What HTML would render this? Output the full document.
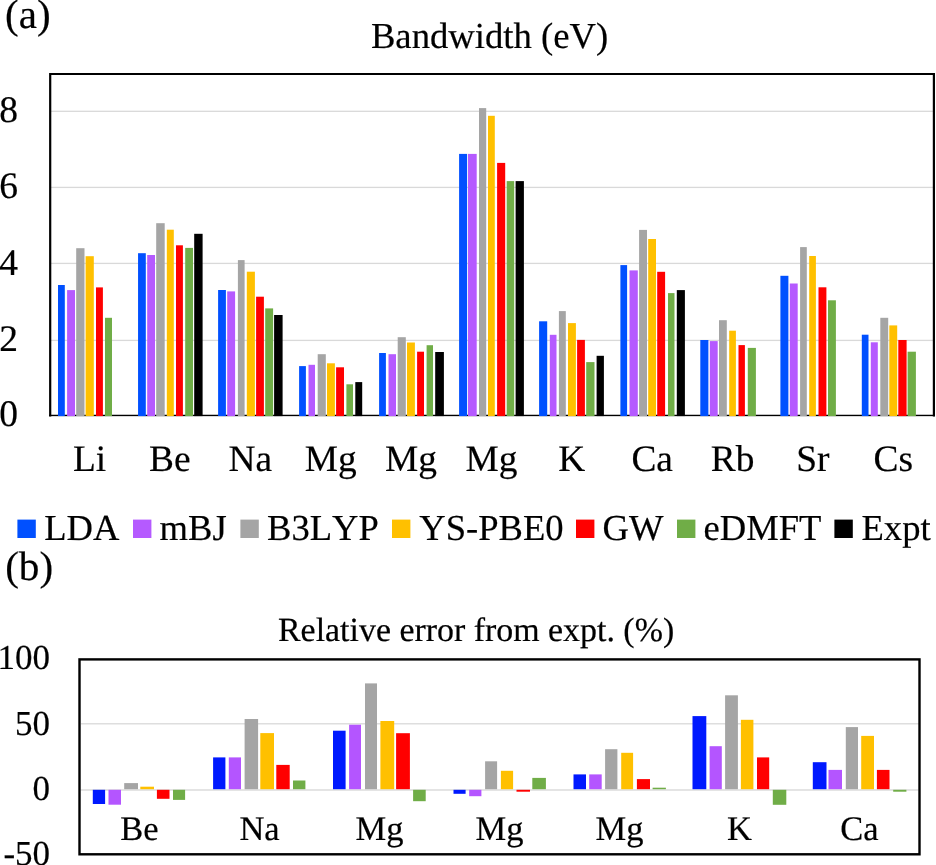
<!DOCTYPE html>
<html><head><meta charset="utf-8"><title>Bandwidth chart</title>
<style>
html,body{margin:0;padding:0;background:#fff;}
body{width:936px;height:865px;overflow:hidden;}
svg{display:block;will-change:transform;}
text{font-family:"Liberation Serif",serif;fill:#000;text-rendering:geometricPrecision;font-kerning:none;stroke:#000;stroke-width:0.2px;}
</style></head><body>
<svg width="936" height="865" viewBox="0 0 936 865">
<text x="5.1" y="28.1" font-size="41">(a)</text>
<text x="370.9" y="47.8" font-size="36.7">Bandwidth (eV)</text>
<rect x="51" y="110.65" width="882" height="1.3" fill="#D9D9D9"/>
<rect x="51" y="186.75" width="882" height="1.3" fill="#D9D9D9"/>
<rect x="51" y="262.75" width="882" height="1.3" fill="#D9D9D9"/>
<rect x="51" y="339.75" width="882" height="1.3" fill="#D9D9D9"/>
<rect x="49" y="414.75" width="886" height="1.4" fill="#000"/>
<rect x="58" y="285" width="6.8" height="131.1" fill="#0050FF"/>
<rect x="67.1" y="290.1" width="7.9" height="126" fill="#B55AFF"/>
<rect x="76.2" y="248.2" width="8.3" height="167.9" fill="#A5A5A5"/>
<rect x="85.6" y="256.2" width="8.2" height="159.9" fill="#FFC000"/>
<rect x="96" y="287.4" width="6.9" height="128.7" fill="#FF0000"/>
<rect x="105" y="317.8" width="7" height="98.3" fill="#70AD47"/>
<rect x="138.05" y="253.2" width="7.75" height="162.9" fill="#0050FF"/>
<rect x="147.2" y="255" width="7.8" height="161.1" fill="#B55AFF"/>
<rect x="156.2" y="223.2" width="8.5" height="192.9" fill="#A5A5A5"/>
<rect x="166.8" y="229.7" width="7" height="186.4" fill="#FFC000"/>
<rect x="176" y="245.3" width="6.9" height="170.8" fill="#FF0000"/>
<rect x="185.2" y="247.9" width="7.8" height="168.2" fill="#70AD47"/>
<rect x="194.2" y="233.8" width="8.4" height="182.3" fill="#000000"/>
<rect x="218.1" y="290" width="7.8" height="126.1" fill="#0050FF"/>
<rect x="227.2" y="291.4" width="7.9" height="124.7" fill="#B55AFF"/>
<rect x="237.9" y="260.1" width="6.7" height="156" fill="#A5A5A5"/>
<rect x="246.8" y="271.7" width="8.1" height="144.4" fill="#FFC000"/>
<rect x="256.1" y="296.7" width="7.8" height="119.4" fill="#FF0000"/>
<rect x="265.2" y="308.4" width="7.9" height="107.7" fill="#70AD47"/>
<rect x="274.1" y="315" width="8.5" height="101.1" fill="#000000"/>
<rect x="299.1" y="366.1" width="6.8" height="50" fill="#0050FF"/>
<rect x="308.5" y="364.8" width="6.5" height="51.3" fill="#B55AFF"/>
<rect x="317.7" y="354.2" width="8.1" height="61.9" fill="#A5A5A5"/>
<rect x="327" y="363.3" width="7.9" height="52.8" fill="#FFC000"/>
<rect x="336.1" y="367.3" width="7.9" height="48.8" fill="#FF0000"/>
<rect x="346.4" y="384.3" width="6.6" height="31.8" fill="#70AD47"/>
<rect x="355.3" y="382.1" width="6.9" height="34" fill="#000000"/>
<rect x="379.1" y="353" width="6.8" height="63.1" fill="#0050FF"/>
<rect x="388.5" y="354.2" width="7.5" height="61.9" fill="#B55AFF"/>
<rect x="397.7" y="337.2" width="8.1" height="78.9" fill="#A5A5A5"/>
<rect x="407" y="342.5" width="7.9" height="73.6" fill="#FFC000"/>
<rect x="417.1" y="351.7" width="6.9" height="64.4" fill="#FF0000"/>
<rect x="426.6" y="345.2" width="6.4" height="70.9" fill="#70AD47"/>
<rect x="435.2" y="352" width="8.7" height="64.1" fill="#000000"/>
<rect x="459.1" y="153.9" width="8" height="262.2" fill="#0050FF"/>
<rect x="468" y="153.9" width="8.7" height="262.2" fill="#B55AFF"/>
<rect x="479" y="108.1" width="7.2" height="308" fill="#A5A5A5"/>
<rect x="488" y="115.8" width="6.8" height="300.3" fill="#FFC000"/>
<rect x="497.1" y="162.9" width="8.1" height="253.2" fill="#FF0000"/>
<rect x="506.7" y="181.1" width="7.5" height="235" fill="#70AD47"/>
<rect x="515.6" y="181.1" width="8.3" height="235" fill="#000000"/>
<rect x="539.1" y="321.3" width="8.1" height="94.8" fill="#0050FF"/>
<rect x="549.8" y="334.8" width="6.7" height="81.3" fill="#B55AFF"/>
<rect x="558.9" y="311.1" width="6.9" height="105" fill="#A5A5A5"/>
<rect x="568" y="323.1" width="7.9" height="93" fill="#FFC000"/>
<rect x="577.1" y="339.9" width="7.8" height="76.2" fill="#FF0000"/>
<rect x="586.2" y="362.1" width="8.3" height="54" fill="#70AD47"/>
<rect x="596.6" y="355.8" width="7.3" height="60.3" fill="#000000"/>
<rect x="620.4" y="265.1" width="6.7" height="151" fill="#0050FF"/>
<rect x="629.5" y="270.4" width="8.3" height="145.7" fill="#B55AFF"/>
<rect x="639.1" y="229.9" width="7.9" height="186.2" fill="#A5A5A5"/>
<rect x="648.2" y="239" width="7.8" height="177.1" fill="#FFC000"/>
<rect x="657.2" y="271.8" width="7.9" height="144.3" fill="#FF0000"/>
<rect x="668" y="293.1" width="6.5" height="123" fill="#70AD47"/>
<rect x="676.8" y="290.1" width="8.1" height="126" fill="#000000"/>
<rect x="700.3" y="340" width="8.1" height="76.1" fill="#0050FF"/>
<rect x="709.8" y="341.1" width="7.9" height="75" fill="#B55AFF"/>
<rect x="719" y="320.2" width="7.8" height="95.9" fill="#A5A5A5"/>
<rect x="729.2" y="330.7" width="6.7" height="85.4" fill="#FFC000"/>
<rect x="738.5" y="345.1" width="6.4" height="71" fill="#FF0000"/>
<rect x="747.8" y="347.9" width="8.1" height="68.2" fill="#70AD47"/>
<rect x="780.4" y="275.8" width="8" height="140.3" fill="#0050FF"/>
<rect x="789.8" y="283.5" width="7.9" height="132.6" fill="#B55AFF"/>
<rect x="800.1" y="247.1" width="6.7" height="169" fill="#A5A5A5"/>
<rect x="809.2" y="256" width="6.7" height="160.1" fill="#FFC000"/>
<rect x="818.5" y="287.3" width="7.9" height="128.8" fill="#FF0000"/>
<rect x="828" y="300.3" width="7.9" height="115.8" fill="#70AD47"/>
<rect x="861.8" y="334.7" width="6.7" height="81.4" fill="#0050FF"/>
<rect x="870.8" y="342.3" width="7" height="73.8" fill="#B55AFF"/>
<rect x="880.3" y="317.8" width="7.9" height="98.3" fill="#A5A5A5"/>
<rect x="889.3" y="325.4" width="7.9" height="90.7" fill="#FFC000"/>
<rect x="898.3" y="340" width="8.3" height="76.1" fill="#FF0000"/>
<rect x="907.6" y="351.7" width="8.3" height="64.4" fill="#70AD47"/>
<path d="M50.2 416.6 V74 H933.9 V416.6" fill="none" stroke="#000" stroke-width="2.2"/>
<text x="18.1" y="122.4" font-size="37.5" text-anchor="end">8</text>
<text x="18.1" y="198.1" font-size="37.5" text-anchor="end">6</text>
<text x="18.1" y="274.5" font-size="37.5" text-anchor="end">4</text>
<text x="18.1" y="350.5" font-size="37.5" text-anchor="end">2</text>
<text x="18.1" y="426" font-size="37.5" text-anchor="end">0</text>
<text x="89.5" y="471" font-size="37.4" text-anchor="middle">Li</text>
<text x="169.88" y="471" font-size="37.4" text-anchor="middle">Be</text>
<text x="250.26" y="471" font-size="37.4" text-anchor="middle">Na</text>
<text x="330.64" y="471" font-size="37.4" text-anchor="middle">Mg</text>
<text x="411.02" y="471" font-size="37.4" text-anchor="middle">Mg</text>
<text x="491.4" y="471" font-size="37.4" text-anchor="middle">Mg</text>
<text x="571.78" y="471" font-size="37.4" text-anchor="middle">K</text>
<text x="652.16" y="471" font-size="37.4" text-anchor="middle">Ca</text>
<text x="732.54" y="471" font-size="37.4" text-anchor="middle">Rb</text>
<text x="812.92" y="471" font-size="37.4" text-anchor="middle">Sr</text>
<text x="893.3" y="471" font-size="37.4" text-anchor="middle">Cs</text>
<rect x="17.4" y="519.6" width="18.4" height="18.4" fill="#0050FF"/>
<text x="44.2" y="539.7" font-size="36.6">LDA</text>
<rect x="133" y="519.6" width="18.4" height="18.4" fill="#B55AFF"/>
<text x="159.6" y="539.7" font-size="36.6">mBJ</text>
<rect x="240.4" y="519.6" width="18.4" height="18.4" fill="#A5A5A5"/>
<text x="267.1" y="539.7" font-size="36.6">B3LYP</text>
<rect x="392" y="519.6" width="18.4" height="18.4" fill="#FFC000"/>
<text x="419.3" y="539.7" font-size="36.6">YS-PBE0</text>
<rect x="576" y="519.6" width="18.4" height="18.4" fill="#FF0000"/>
<text x="602.5" y="539.7" font-size="36.6">GW</text>
<rect x="677" y="519.6" width="18.4" height="18.4" fill="#70AD47"/>
<text x="703.5" y="539.7" font-size="36.6">eDMFT</text>
<rect x="834.4" y="519.6" width="18.4" height="18.4" fill="#000000"/>
<text x="861.5" y="539.7" font-size="36.6">Expt</text>
<text x="5.15" y="579.8" font-size="41.2">(b)</text>
<text x="278" y="641" font-size="33.9">Relative error from expt. (%)</text>
<rect x="81" y="723.15" width="838" height="1.3" fill="#D9D9D9"/>
<rect x="80.5" y="789.3" width="838" height="1.4" fill="#D9D9D9"/>
<rect x="92.8" y="789.8" width="12.3" height="14.2" fill="#0019FF"/>
<rect x="108.5" y="789.8" width="12.5" height="14.9" fill="#B455FF"/>
<rect x="124.2" y="783.1" width="13.8" height="6.1" fill="#A5A5A5"/>
<rect x="140.3" y="786.7" width="13.7" height="2.5" fill="#FFC000"/>
<rect x="156.9" y="789.8" width="12.6" height="9" fill="#FF0000"/>
<rect x="173" y="789.8" width="12.1" height="10.1" fill="#70AD47"/>
<rect x="213.1" y="757.4" width="12.3" height="31.8" fill="#0019FF"/>
<rect x="228.8" y="757.4" width="12.2" height="31.8" fill="#B455FF"/>
<rect x="244.6" y="719" width="13.5" height="70.2" fill="#A5A5A5"/>
<rect x="260.3" y="733.1" width="13.7" height="56.1" fill="#FFC000"/>
<rect x="276.3" y="764.9" width="13.4" height="24.3" fill="#FF0000"/>
<rect x="293" y="780.5" width="12.4" height="8.7" fill="#70AD47"/>
<rect x="333" y="730.7" width="12.6" height="58.5" fill="#0019FF"/>
<rect x="349.1" y="724.7" width="11.9" height="64.5" fill="#B455FF"/>
<rect x="365" y="683.4" width="12" height="105.8" fill="#A5A5A5"/>
<rect x="380.4" y="721" width="13.8" height="68.2" fill="#FFC000"/>
<rect x="396.1" y="733.2" width="13.8" height="56" fill="#FF0000"/>
<rect x="413.1" y="789.8" width="12.6" height="11.4" fill="#70AD47"/>
<rect x="453.5" y="789.8" width="12.1" height="4" fill="#0019FF"/>
<rect x="469.2" y="789.8" width="12.2" height="6.4" fill="#B455FF"/>
<rect x="485.1" y="761.3" width="12" height="27.9" fill="#A5A5A5"/>
<rect x="500.9" y="770.8" width="12.2" height="18.4" fill="#FFC000"/>
<rect x="516.5" y="789.8" width="13.5" height="1.9" fill="#FF0000"/>
<rect x="532.3" y="777.9" width="13.6" height="11.3" fill="#70AD47"/>
<rect x="573.5" y="774.4" width="12.5" height="14.8" fill="#0019FF"/>
<rect x="589.2" y="774.4" width="12.5" height="14.8" fill="#B455FF"/>
<rect x="605.1" y="749.2" width="12.3" height="40" fill="#A5A5A5"/>
<rect x="621.2" y="752.8" width="11.9" height="36.4" fill="#FFC000"/>
<rect x="636.9" y="779.1" width="13.1" height="10.1" fill="#FF0000"/>
<rect x="652.6" y="787.7" width="13.3" height="1.5" fill="#70AD47"/>
<rect x="692.5" y="716.1" width="13.8" height="73.1" fill="#0019FF"/>
<rect x="709.6" y="746.2" width="12.2" height="43" fill="#B455FF"/>
<rect x="725.1" y="695.3" width="12.8" height="93.9" fill="#A5A5A5"/>
<rect x="740.9" y="719.8" width="12.5" height="69.4" fill="#FFC000"/>
<rect x="757" y="757.4" width="12.2" height="31.8" fill="#FF0000"/>
<rect x="772.8" y="789.8" width="13.5" height="15" fill="#70AD47"/>
<rect x="812.8" y="762.2" width="13.7" height="27" fill="#0019FF"/>
<rect x="828.5" y="769.9" width="13.5" height="19.3" fill="#B455FF"/>
<rect x="845.8" y="727.1" width="12.2" height="62.1" fill="#A5A5A5"/>
<rect x="861.2" y="735.9" width="12.8" height="53.3" fill="#FFC000"/>
<rect x="876.9" y="769.9" width="12.6" height="19.3" fill="#FF0000"/>
<rect x="893.2" y="789.8" width="13.2" height="1.9" fill="#70AD47"/>
<rect x="79.5" y="659.4" width="840" height="194.9" fill="none" stroke="#000" stroke-width="2.4"/>
<text x="50.1" y="669.2" font-size="35" text-anchor="end">100</text>
<text x="50.1" y="735" font-size="35" text-anchor="end">50</text>
<text x="50.1" y="799.6" font-size="35" text-anchor="end">0</text>
<text x="50.1" y="865" font-size="35" text-anchor="end">-50</text>
<text x="139.5" y="840.4" font-size="34.5" text-anchor="middle">Be</text>
<text x="259.5" y="840.4" font-size="34.5" text-anchor="middle">Na</text>
<text x="379.5" y="840.4" font-size="34.5" text-anchor="middle">Mg</text>
<text x="499.5" y="840.4" font-size="34.5" text-anchor="middle">Mg</text>
<text x="619.5" y="840.4" font-size="34.5" text-anchor="middle">Mg</text>
<text x="739.5" y="840.4" font-size="34.5" text-anchor="middle">K</text>
<text x="859.5" y="840.4" font-size="34.5" text-anchor="middle">Ca</text>
</svg>
</body></html>
